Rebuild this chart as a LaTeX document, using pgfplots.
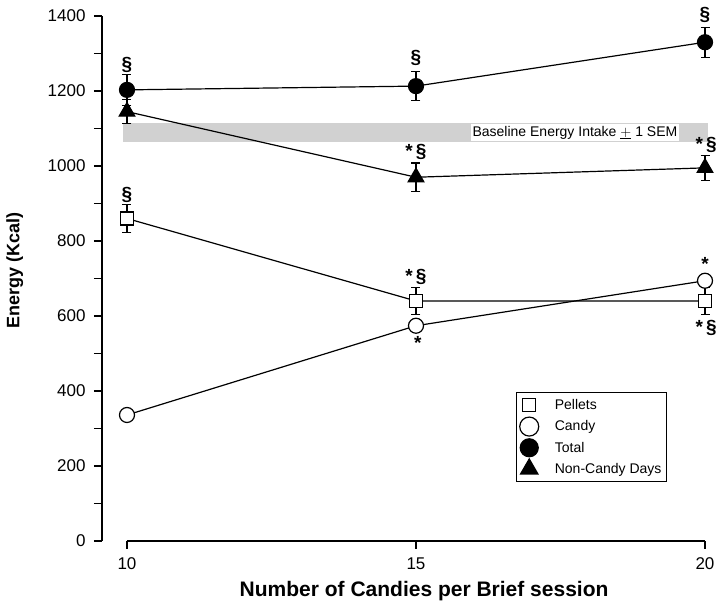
\documentclass[border=0pt]{standalone}
\usepackage{pgfplots}
\pgfplotsset{compat=1.18}
\usepackage{fontspec}
\setmainfont{Liberation Sans}
\pgfplotsset{limg/.style={legend image code/.code={\draw[##1, only marks, mark size=#1] plot coordinates {(9pt,0pt)}; \path (0pt,-10pt) (32pt,10pt);}}}
\begin{document}
\begin{tikzpicture}
\useasboundingbox (-127pt,-68pt) rectangle (597pt,541pt);
\begin{axis}[
  at={(0pt,0pt)}, anchor=south west,
  x=57.8pt, y=0.375pt,
  xmin=10, xmax=20, ymin=0, ymax=1400,
  clip=false,
  axis lines*=left,
  separate axis lines,
  axis y line shift=25pt,
  xtick={10,15,20},
  ytick={0,200,...,1400},
  minor ytick={100,300,...,1300},
  tick align=outside,
  major tick length=8pt, minor tick length=8pt,
  tick style={line width=1.3pt, black},
  axis line style={line width=1.4pt},
  tick label style={font=\fontsize{17}{17}\selectfont},
  yticklabel style={xshift=-5pt},
  xticklabel style={yshift=-5pt},
  /pgf/number format/assume math mode=true,
  /pgf/number format/1000 sep={},
  xlabel={Number of Candies per Brief session},
  ylabel={Energy (Kcal)},
  xlabel style={font=\bfseries\fontsize{21}{21}\selectfont, at={(axis description cs:0.514,-0.095)}, anchor=center},
  ylabel style={font=\bfseries\fontsize{18}{18}\selectfont, at={(axis description cs:-0.194,0.516)}, anchor=center},
  legend style={at={(axis cs:16.73,397)}, anchor=north west, draw=black, line width=1.3pt,
    font=\fontsize{14}{14}\selectfont, row sep=0pt, inner xsep=3pt, inner ysep=2pt,
    legend cell align=left},
  every axis plot/.append style={line width=1.2pt, black},
  error bars/error bar style={line width=1.1pt, black},
  error bars/error mark options={line width=1.1pt, black, mark size=4.5pt, rotate=90},
]
% baseline band
\addplot[fill=black!18, draw=none, forget plot] coordinates {(9.93,1063) (20.05,1063) (20.05,1115) (9.93,1115)} -- cycle;
\node[fill=white, inner sep=2pt, font=\fontsize{14}{14}\selectfont] at (axis cs:17.75,1089) {Baseline Energy Intake $\underline{+}$ 1 SEM};

\addplot[mark=square*, mark options={fill=white, draw=black, line width=1.2pt}, mark size=6.5pt,
  limg=6.5pt,
  error bars/.cd, y dir=both, y explicit]
  coordinates {(10,860) +- (0,37) (15,640) +- (0,35) (20,640) +- (0,35)};
\addlegendentry{Pellets}
\addplot[mark=*, mark options={fill=white, draw=black, line width=1.2pt}, mark size=7.5pt,
  limg=9.5pt]
  coordinates {(10,336) (15,574) (20,694)};
\addlegendentry{Candy}
\addplot[mark=*, mark options={fill=black, draw=black}, mark size=7.5pt,
  limg=9pt,
  error bars/.cd, y dir=both, y explicit]
  coordinates {(10,1203) +- (0,42) (15,1213) +- (0,38) (20,1330) +- (0,40)};
\addlegendentry{Total}
\addplot[mark=triangle*, mark options={fill=black, draw=black}, mark size=9pt,
  limg=10pt,
  error bars/.cd, y dir=both, y explicit]
  coordinates {(10,1145) +- (0,32) (15,970) +- (0,38) (20,995) +- (0,33)};
\addlegendentry{Non-Candy Days}

\tikzset{ann/.style={font=\bfseries\fontsize{19}{19}\selectfont, inner sep=0pt}}
\node[ann] at (axis cs:10,1269) {\S};
\node[ann] at (axis cs:15,1288) {\S};
\node[ann] at (axis cs:20,1403) {\S};
\node[ann] at (axis cs:10,923) {\S};
\node[ann] at (axis cs:15,1037) {*\,\S};
\node[ann] at (axis cs:20.02,1056) {*\,\S};
\node[ann] at (axis cs:15,704) {*\,\S};
\node[ann] at (axis cs:20.02,568) {*\,\S};
\node[ann] at (axis cs:15.03,528) {*};
\node[ann] at (axis cs:20,739) {*};
\end{axis}
\end{tikzpicture}
\end{document}
